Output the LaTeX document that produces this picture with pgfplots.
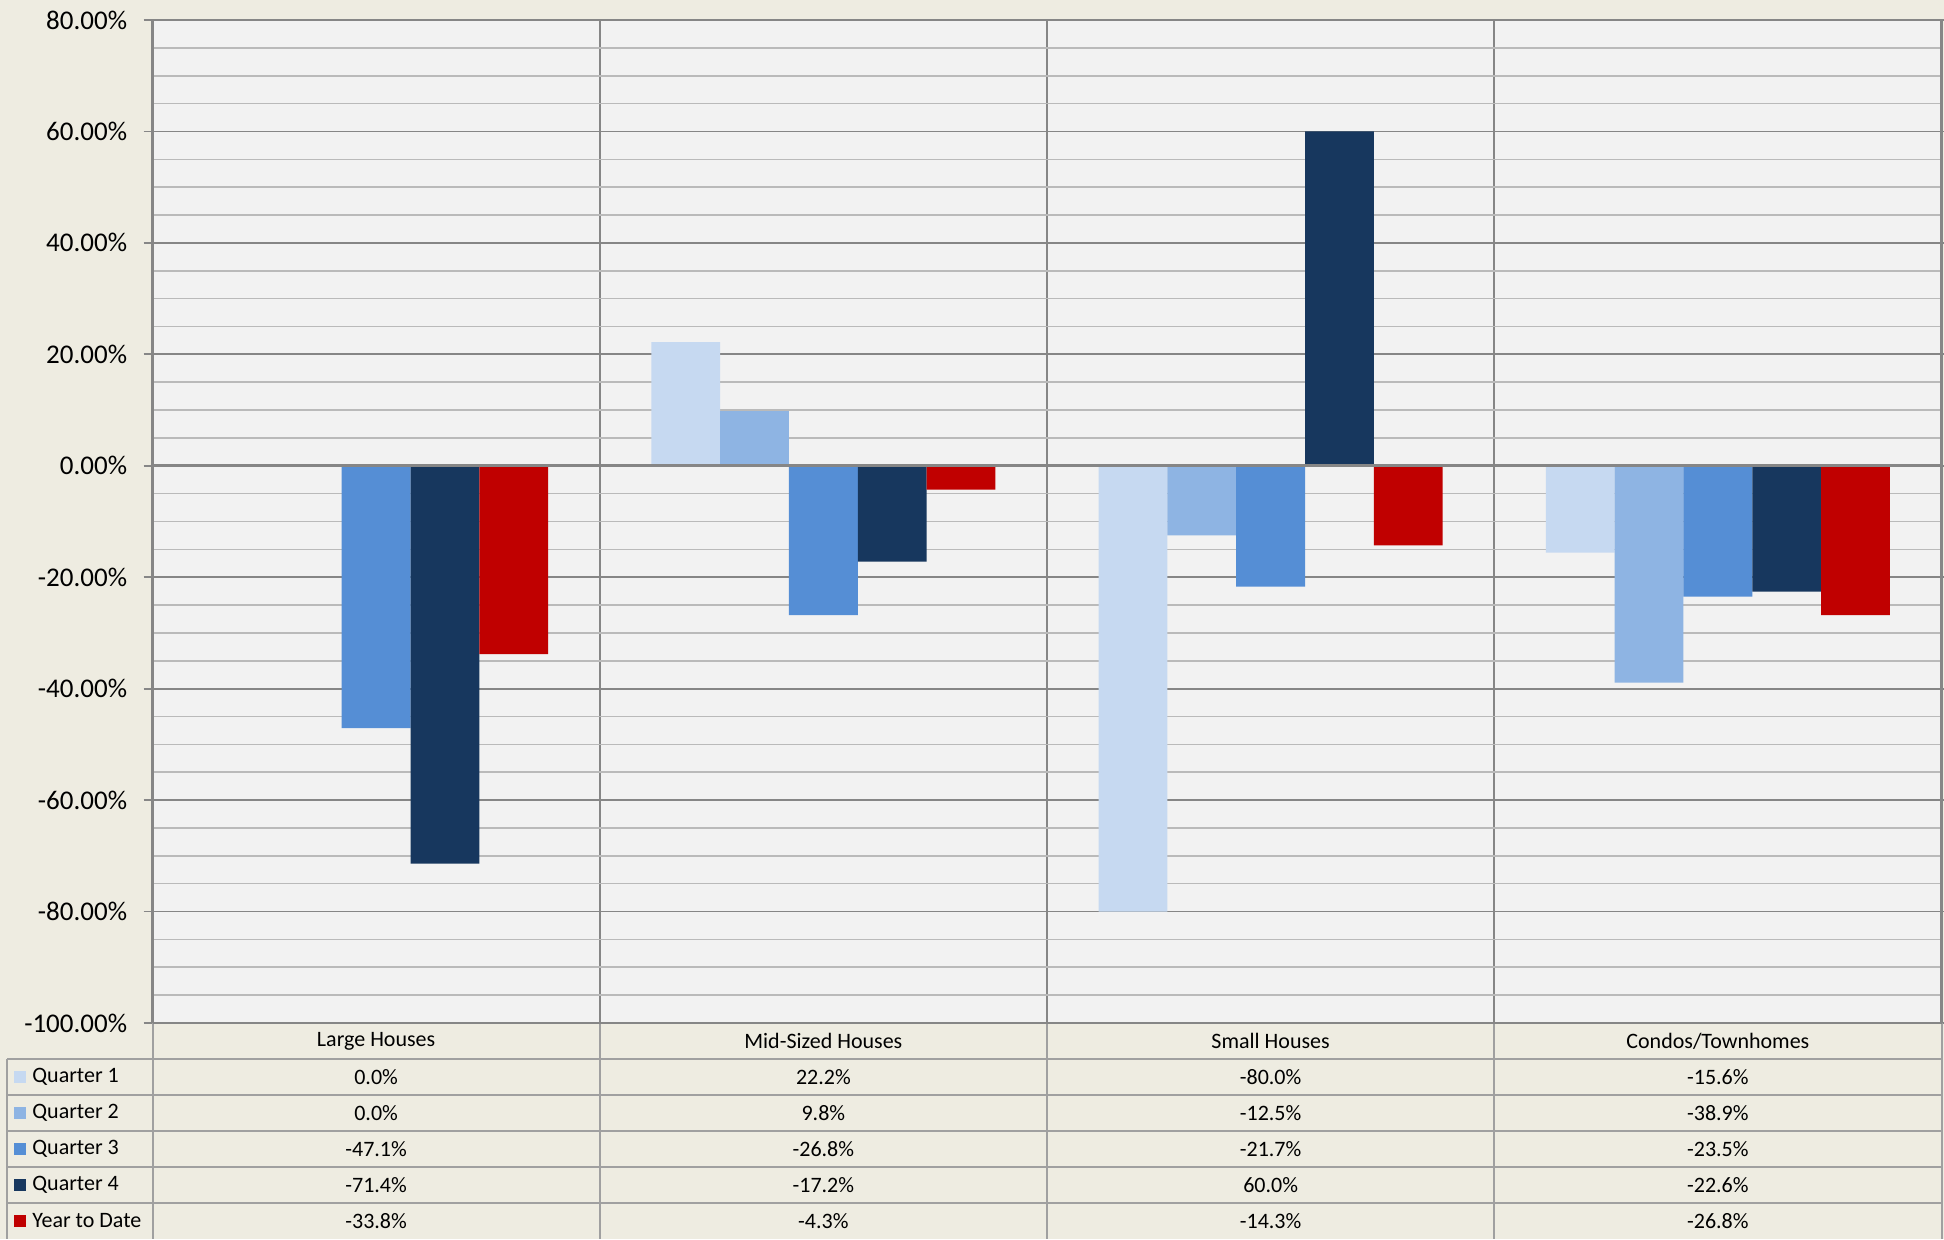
\documentclass[border=0pt]{standalone}
\usepackage{pgfplots}
\pgfplotsset{compat=1.18}
\usepackage{fontspec}
\setmainfont{Carlito}
\definecolor{bgc}{HTML}{EEECE1}
\definecolor{plotc}{HTML}{F2F2F2}
\definecolor{qa}{HTML}{C6D9F1}
\definecolor{qb}{HTML}{8EB4E3}
\definecolor{qc}{HTML}{558ED5}
\definecolor{qd}{HTML}{17375E}
\definecolor{ytd}{HTML}{C00000}
\definecolor{gmaj}{HTML}{868686}
\definecolor{gmin}{HTML}{BABABA}
\definecolor{tline}{HTML}{A0A0A0}
\begin{document}
\begin{tikzpicture}[x=1pt,y=1pt]
\fill[bgc] (0,0) rectangle (972,619.5);
\path[use as bounding box] (0,0) rectangle (972,619.5);
\begin{axis}[at={(76.25pt,108pt)}, anchor=south west, scale only axis,
  width=894.5pt, height=501.5pt,
  xmin=0, xmax=4, ymin=-100, ymax=80,
  axis background/.style={fill=plotc},
  ybar=0pt, bar width=0.153846,
  ytick={-100,-80,...,80},
  yticklabels={-100.00\%,-80.00\%,-60.00\%,-40.00\%,-20.00\%,0.00\%,20.00\%,40.00\%,60.00\%,80.00\%},
  minor y tick num=3,
  ymajorgrids, yminorgrids, xmajorgrids,
  major grid style={gmaj, line width=0.9pt},
  minor grid style={gmin, line width=0.8pt},
  xtick={1,2,3}, xticklabels={}, xtick style={draw=none},
  tick align=outside, major tick length=4.5pt, minor tick length=0pt,
  ytick style={gmaj, line width=0.9pt},
  axis line style={gmaj, line width=1.1pt},
  yticklabel style={font=\fontsize{13.5}{16}\selectfont, inner sep=0pt, xshift=-8pt},
  clip=false,
]
\addplot[draw=none, fill=qa] coordinates {(0.5,0) (1.5,22.2) (2.5,-80.0) (3.5,-15.6)};
\addplot[draw=none, fill=qb] coordinates {(0.5,0) (1.5,9.8) (2.5,-12.5) (3.5,-38.9)};
\addplot[draw=none, fill=qc] coordinates {(0.5,-47.1) (1.5,-26.8) (2.5,-21.7) (3.5,-23.5)};
\addplot[draw=none, fill=qd] coordinates {(0.5,-71.4) (1.5,-17.2) (2.5,60.0) (3.5,-22.6)};
\addplot[draw=none, fill=ytd] coordinates {(0.5,-33.8) (1.5,-4.3) (2.5,-14.3) (3.5,-26.8)};
\draw[gmaj, line width=1.4pt] (axis cs:0,0) -- (axis cs:4,0);
\end{axis}
% data table
\begin{scope}[tline, line width=1pt]
\foreach \yy in {90,72,54,36,18} \draw (3.7,\yy) -- (970.75,\yy);
\draw (3.7,90) -- (3.7,0);
\foreach \k in {0,1,2,3,4} \draw ({76.25+\k*223.625},108) -- ({76.25+\k*223.625},0);
\end{scope}
\draw[gmaj, line width=1.1pt] (76.25,108) -- (970.75,108);
\begin{scope}[font=\fontsize{11}{13}\selectfont, text=black, inner sep=0pt]
\node at ({76.25+0.5*223.625},99) {Large Houses};
\node at ({76.25+1.5*223.625},99) {Mid-Sized Houses};
\node at ({76.25+2.5*223.625},99) {Small Houses};
\node at ({76.25+3.5*223.625},99) {Condos/Townhomes};
\foreach \lab/\col/\yy in {Quarter 1/qa/81, Quarter 2/qb/63, Quarter 3/qc/45, Quarter 4/qd/27, Year to Date/ytd/9} {
  \fill[\col] (7,\yy-3) rectangle (13,\yy+3);
  \node[anchor=west] at (16,\yy) {\lab};
}
\foreach \a/\b/\c/\d/\yy in {0.0\%/22.2\%/-80.0\%/-15.6\%/81, 0.0\%/9.8\%/-12.5\%/-38.9\%/63, -47.1\%/-26.8\%/-21.7\%/-23.5\%/45, -71.4\%/-17.2\%/60.0\%/-22.6\%/27, -33.8\%/-4.3\%/-14.3\%/-26.8\%/9} {
  \node at ({76.25+0.5*223.625},\yy) {\a};
  \node at ({76.25+1.5*223.625},\yy) {\b};
  \node at ({76.25+2.5*223.625},\yy) {\c};
  \node at ({76.25+3.5*223.625},\yy) {\d};
}
\end{scope}
\end{tikzpicture}
\end{document}
